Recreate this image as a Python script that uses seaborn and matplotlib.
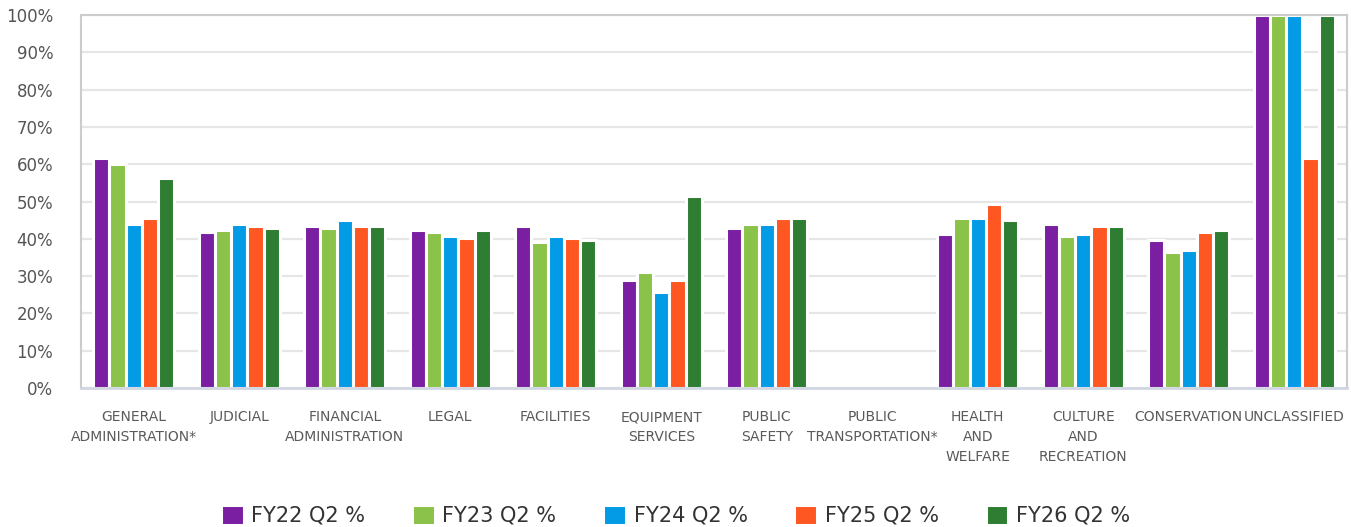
import matplotlib
matplotlib.use("Agg")
import matplotlib.pyplot as plt
import seaborn as sns
import pandas as pd
from matplotlib.ticker import FuncFormatter

# --- datos (porcentaje) ---
categories = [
    "GENERAL\nADMINISTRATION*", "JUDICIAL", "FINANCIAL\nADMINISTRATION", "LEGAL",
    "FACILITIES", "EQUIPMENT\nSERVICES", "PUBLIC\nSAFETY", "PUBLIC\nTRANSPORTATION*",
    "HEALTH\nAND\nWELFARE", "CULTURE\nAND\nRECREATION", "CONSERVATION", "UNCLASSIFIED",
]
series = ["FY22 Q2 %", "FY23 Q2 %", "FY24 Q2 %", "FY25 Q2 %", "FY26 Q2 %"]
fy22 = [61.7, 41.8, 43.4, 42.4, 43.4, 28.9, 42.9, 0, 41.3, 43.9, 39.6, 100]
fy23 = [60.1, 42.4, 42.9, 41.8, 39.1, 31.1, 43.9, 0, 45.5, 40.7, 36.4, 100]
fy24 = [43.9, 43.9, 45.0, 40.7, 40.7, 25.7, 43.9, 0, 45.5, 41.3, 37.0, 100]
fy25 = [45.5, 43.4, 43.4, 40.2, 40.2, 28.9, 45.5, 0, 49.3, 43.4, 41.8, 61.6]
fy26 = [56.3, 42.9, 43.4, 42.3, 39.6, 51.4, 45.5, 0, 45.0, 43.4, 42.3, 100]
colors = ["#7B1FA2", "#8BC34A", "#039BE5", "#FF5722", "#2E7D32"]

df = pd.DataFrame({"category": categories, series[0]: fy22, series[1]: fy23,
                   series[2]: fy24, series[3]: fy25, series[4]: fy26})
long = df.melt(id_vars="category", var_name="serie", value_name="pct")

sns.set_style("white")
plt.rcParams["font.family"] = ["DejaVu Sans"]

fig = plt.figure(figsize=(13.51, 5.27), dpi=100)
ax = fig.add_axes([0.06, 0.2637, 0.937, 0.7078])

sns.barplot(data=long, x="category", y="pct", hue="serie", order=categories,
            hue_order=series, palette=colors, saturation=1, width=0.77,
            edgecolor="white", linewidth=2.2, ax=ax, legend=True)

ax.set_ylim(0, 100)
ax.set_xlim(-0.5, len(categories) - 0.5)
ax.set_yticks(range(0, 101, 10))
ax.yaxis.set_major_formatter(FuncFormatter(lambda v, _: f"{v:.0f}%"))
ax.yaxis.grid(True, color="#e6e6e6", lw=1.6)
ax.set_axisbelow(True)
ax.set_xlabel("")
ax.set_ylabel("")
ax.tick_params(axis="y", length=0, pad=20, labelsize=12, labelcolor="#555555")
ax.tick_params(axis="x", length=0, pad=16, labelsize=10, labelcolor="#5a5a5a")
for lab in ax.get_xticklabels():
    lab.set_linespacing(1.55)
    lab.set_verticalalignment("top")

for side in ["left", "top", "right"]:
    ax.spines[side].set_color("#cccccc")
    ax.spines[side].set_linewidth(1.5)
ax.spines["bottom"].set_color("#d0d6e2")
ax.spines["bottom"].set_linewidth(2)

handles, labels = ax.get_legend_handles_labels()
ax.get_legend().remove()
fig.legend(handles, labels, loc="center", bbox_to_anchor=(0.5, 0.022), ncol=5,
           frameon=False, handlelength=1.1, handleheight=1.1, handletextpad=0.35,
           columnspacing=2.25, prop={"size": 15}, labelcolor="#333333")

fig.savefig("out.png", dpi=100)
